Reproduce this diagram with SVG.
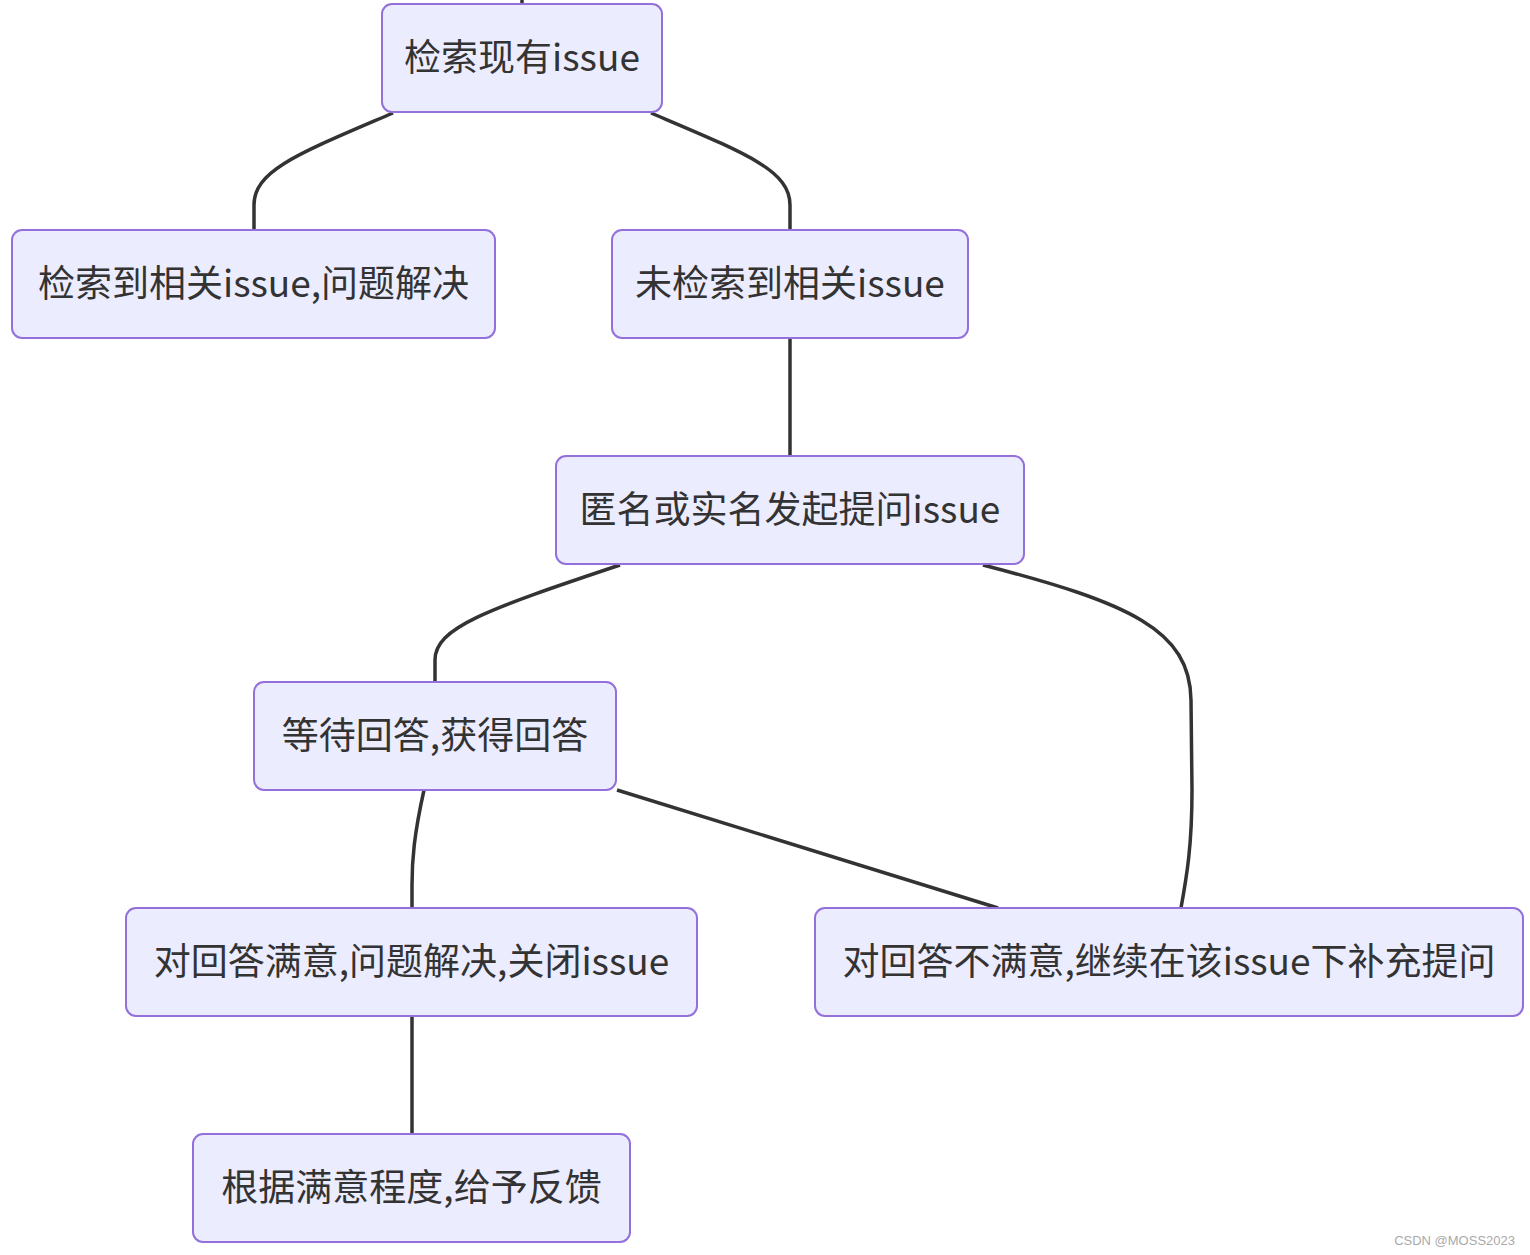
<svg xmlns="http://www.w3.org/2000/svg" width="1530" height="1255" viewBox="0 0 1530 1255">
<style>
.node rect{fill:#ECECFF;stroke:#9370DB;stroke-width:2}
.node text{font-family:"Noto Sans CJK SC","Noto Sans",sans-serif;font-size:37px;fill:#333;text-anchor:middle;dominant-baseline:central}
.edges path{fill:none;stroke:#333;stroke-width:3.5}
.wm{font-family:"Liberation Sans",Arial,sans-serif;font-size:13px;fill:#aaa}
</style>
<rect width="1530" height="1255" fill="#fff"/>
<g class="edges">
<path d="M522,0 L522,4"/>
<path d="M393,113 C300,153 254,170 254,205 L254,230"/>
<path d="M651,113 C745,153 790,170 790,205 L790,230"/>
<path d="M790,338 L790,456"/>
<path d="M620,565 C485,610 435,628 435,660 L435,682"/>
<path d="M983,565 C1130,603 1190,630 1191,700 L1192,790 C1192,845 1187,875 1181,908"/>
<path d="M424,790 C414,835 412,860 412,885 L412,908"/>
<path d="M617,790 L998,908"/>
<path d="M412,1016 L412,1134"/>
</g>
<g id="n1" class="node"><rect x="382" y="4" width="280" height="108" rx="10"/><text x="522" y="55">检索现有issue</text></g>
<g id="n2" class="node"><rect x="12" y="230" width="483" height="108" rx="10"/><text x="253.5" y="281">检索到相关issue,问题解决</text></g>
<g id="n3" class="node"><rect x="612" y="230" width="356" height="108" rx="10"/><text x="790" y="281">未检索到相关issue</text></g>
<g id="n4" class="node"><rect x="556" y="456" width="468" height="108" rx="10"/><text x="790" y="507">匿名或实名发起提问issue</text></g>
<g id="n5" class="node"><rect x="254" y="682" width="362" height="108" rx="10"/><text x="435" y="733">等待回答,获得回答</text></g>
<g id="n6" class="node"><rect x="126" y="908" width="571" height="108" rx="10"/><text x="411.5" y="959">对回答满意,问题解决,关闭issue</text></g>
<g id="n7" class="node"><rect x="815" y="908" width="708" height="108" rx="10"/><text x="1169" y="959">对回答不满意,继续在该issue下补充提问</text></g>
<g id="n8" class="node"><rect x="193" y="1134" width="437" height="108" rx="10"/><text x="411.5" y="1185">根据满意程度,给予反馈</text></g>
<text class="wm" x="1515" y="1245" text-anchor="end">CSDN @MOSS2023</text>
</svg>
